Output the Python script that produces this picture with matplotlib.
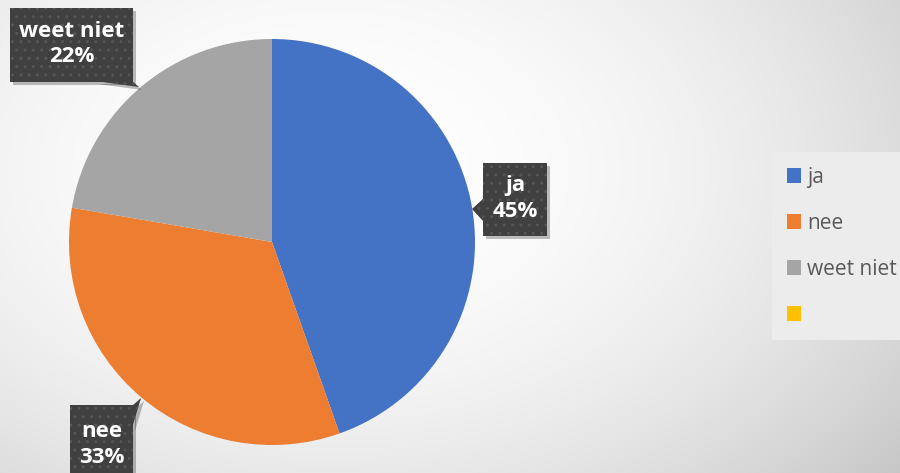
import numpy as np
import matplotlib.pyplot as plt
from matplotlib.patches import Polygon, Patch

labels = ['ja', 'nee', 'weet niet', '']
values = [44.6, 33.1, 22.3, 0]
colors = ['#4472C4', '#ED7D31', '#A5A5A5', '#FFC000']

W, H = 900, 473

fig = plt.figure(figsize=(W / 100, H / 100), dpi=100)

# background: soft radial gradient, light on the left, darker to the right
bg = fig.add_axes([0, 0, 1, 1])
yy, xx = np.mgrid[0:H, 0:W]
r2 = ((xx - 330) / 570.0) ** 2 + ((yy - 170) / 380.0) ** 2
shade = np.clip(1 - 0.135 * r2, 0, 1)
bg.imshow(np.dstack([shade] * 3), extent=(0, W, 0, H), origin='upper', aspect='auto')
bg.set_axis_off()

ax = fig.add_axes([0, 0, 1, 1])
ax.set_facecolor('none')
wedges, _ = ax.pie(values, colors=colors, startangle=90, counterclock=False,
                   center=(272, H - 242), radius=203,
                   wedgeprops=dict(linewidth=0))
ax.set_xlim(0, W)
ax.set_ylim(0, H)
ax.set_axis_off()


def callout(box, tail, text):
    # box: x0, y0, x1, y1 in pixels from top; tail: list of points from top
    x0, y0, x1, y1 = box
    rect = [(x0, y0), (x1, y0), (x1, y1), (x0, y1)]
    for pts, fc, hatch, off, alpha, z in [
            (rect, 'black', None, 3, 0.25, 3), (tail, 'black', None, 3, 0.25, 3),
            (rect, '#404040', '..', 0, 1, 4), (tail, '#404040', '..', 0, 1, 4)]:
        p = Polygon([(x + off, H - y - off) for x, y in pts], closed=True,
                    facecolor=fc, edgecolor='#555555' if hatch else 'none',
                    hatch=hatch, linewidth=0, alpha=alpha, zorder=z)
        ax.add_patch(p)
    ax.text((x0 + x1) / 2, H - (y0 + y1) / 2 + 1, text, ha='center', va='center',
            color='white', fontsize=16, fontweight='bold', family='Open Sans',
            linespacing=1.3, zorder=5)


total = sum(values)
pct = [f'{lab}\n{round(v / total * 100)}%' for lab, v in zip(labels, values)]

callout((483, 163, 547, 236), [(484, 198), (472, 209), (484, 222)], pct[0])
callout((70, 405, 133, 486), [(132, 406), (141, 398), (132, 428)], pct[1])
callout((10, 8, 133, 82), [(95, 81), (139, 87), (132, 81)], pct[2])

handles = [Patch(facecolor=c, edgecolor='none') for c in colors]
leg = fig.legend(handles, labels, loc='upper left',
                 bbox_to_anchor=(772 / W, 1 - 152 / H), frameon=True,
                 labelspacing=1.2, handlelength=0.7, handleheight=0.7,
                 handletextpad=0.3, borderpad=0.7, borderaxespad=0,
                 fancybox=False, prop={'family': 'Open Sans', 'size': 15})
leg.get_frame().set_facecolor('#ececec')
leg.get_frame().set_edgecolor('none')
leg.get_frame().set_alpha(1)
for t in leg.get_texts():
    t.set_color('#595959')

fig.savefig('out.png', dpi=100)
